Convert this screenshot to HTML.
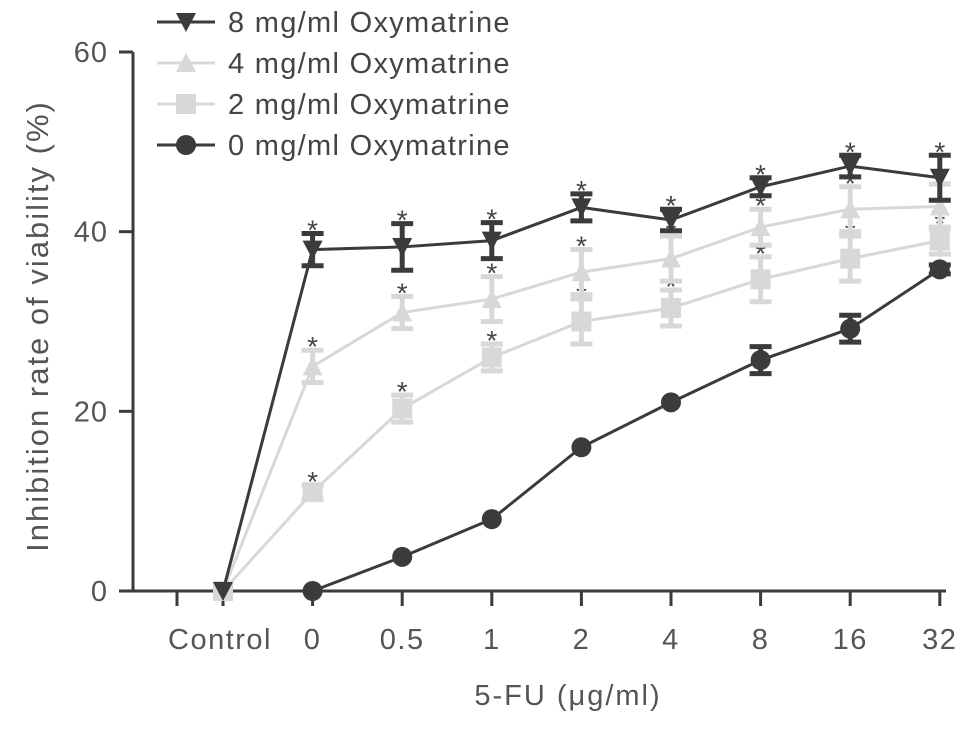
<!DOCTYPE html>
<html><head><meta charset="utf-8"><style>
html,body{margin:0;padding:0;background:#fff;}
svg text{font-family:"Liberation Sans",sans-serif;}
</style></head><body>
<svg id="chart" width="969" height="727" xmlns="http://www.w3.org/2000/svg">
<g id="axes"></g><g id="series"></g><g id="legend"></g>
</svg>
<script>
const categories=["Control","0","0.5","1","2","4","8","16","32"];
const yTicks=[0,20,40,60];
const s8=[0,38,38.3,39,42.7,41.3,45,47.3,46];
const e8=[0,1.8,2.6,2.0,1.5,1.2,1.0,1.2,2.5];
const s4=[0,25,31,32.5,35.5,37,40.5,42.5,42.8];
const e4=[0,1.8,1.8,2.5,2.5,2.5,2.0,2.5,2.5];
const s2=[0,11,20.3,26,30,31.5,34.7,37,39];
const e2=[0,0.8,1.5,1.5,2.5,2.0,2.5,2.5,1.5];
const s0=[null,0,3.8,8,16,21,25.7,29.2,35.8];
const e0=[0,0,0,0,0,0,1.5,1.5,0.5];
const NS="http://www.w3.org/2000/svg";
const xs=i=>223+i*89.6;
const ys=v=>591-v*(539/60);
function mk(t,a,p){const e=document.createElementNS(NS,t);for(const k in a)e.setAttribute(k,a[k]);p.appendChild(e);return e;}
const ax=document.getElementById('axes'),sg=document.getElementById('series'),lg=document.getElementById('legend');
const DARK="#3b3b3b",LIGHT="#d8d8d8";
let l=mk('line',{x1:133,y1:52,x2:133,y2:592,stroke:DARK,'stroke-width':3},ax);

l=mk('line',{x1:132,y1:591,x2:946,y2:591,stroke:DARK,'stroke-width':3},ax);

yTicks.forEach(v=>{
 let t=mk('line',{x1:119,y1:ys(v),x2:133,y2:ys(v),stroke:DARK,'stroke-width':3},ax);
 
 let tx=mk('text',{x:108,y:ys(v)+10,'text-anchor':'end','font-size':29,'letter-spacing':1,fill:'#555'},ax);tx.textContent=v;
 
});
categories.forEach((c,i)=>{
 let t=mk('line',{x1:xs(i),y1:591,x2:xs(i),y2:606,stroke:DARK,'stroke-width':3},ax);
 
 let tx=mk('text',{x:c==="Control"?xs(i)-3:xs(i),y:649,'text-anchor':'middle','font-size':29,'letter-spacing':1.5,fill:'#555'},ax);tx.textContent=c;
 
});
let t=mk('line',{x1:177,y1:591,x2:177,y2:606,stroke:DARK,'stroke-width':3},ax);

let xt=mk('text',{x:568,y:705,'text-anchor':'middle','font-size':29,'letter-spacing':2,fill:'#555'},ax);xt.textContent="5-FU (μg/ml)";

let yt=mk('text',{x:0,y:0,'text-anchor':'middle','font-size':31,'letter-spacing':2,fill:'#555',transform:'translate(48,326) rotate(-90)'},ax);yt.textContent="Inhibition rate of viability (%)";


function marker(shape,x,y,col,p){
 let m;
 if(shape==='tri-down')m=mk('polygon',{points:`${x-10},${y-9} ${x+10},${y-9} ${x},${y+10}`,fill:col},p);
 else if(shape==='tri-up')m=mk('polygon',{points:`${x-10},${y+9} ${x+10},${y+9} ${x},${y-10}`,fill:col},p);
 else if(shape==='square')m=mk('rect',{x:x-10,y:y-10,width:20,height:20,fill:col},p);
 else m=mk('circle',{cx:x,cy:y,r:10,fill:col},p);
 
}
function series(name,vals,errs,col,shape,stars){
 const g=mk('g',{},sg);
 const pts=[];vals.forEach((v,i)=>{if(v!==null)pts.push(xs(i)+','+ys(v));});
 let pl=mk('polyline',{points:pts.join(' '),fill:'none',stroke:col,'stroke-width':3},g);
 
 vals.forEach((v,i)=>{
  if(v===null)return;const x=xs(i),e=errs[i];
  if(e>0){
   let eb=mk('path',{d:`M${x},${ys(v+e)}V${ys(v-e)}M${x-11},${ys(v+e)}H${x+11}M${x-11},${ys(v-e)}H${x+11}`,stroke:col,'stroke-width':5,fill:'none'},g);
   
  }
  marker(shape,x,ys(v),col,g);
  if(stars&&i>0){let st=mk('text',{x:x,y:ys(v+e)+6,'text-anchor':'middle','font-size':28,fill:'#444'},g);st.textContent='*';
   }
 });
}
series('series-2mg',s2,e2,LIGHT,'square',true);
series('series-4mg',s4,e4,LIGHT,'tri-up',true);
series('series-0mg',s0,e0,DARK,'circle',false);
series('series-8mg',s8,e8,DARK,'tri-down',true);
const legendLabels=["8 mg/ml Oxymatrine","4 mg/ml Oxymatrine","2 mg/ml Oxymatrine","0 mg/ml Oxymatrine"];
const legendCols=[DARK,LIGHT,LIGHT,DARK],legendShapes=['tri-down','tri-up','square','circle'];
legendLabels.forEach((lab,i)=>{
 const y=22+i*41;const g=mk('g',{},lg);
 mk('line',{x1:157,y1:y,x2:215,y2:y,stroke:legendCols[i],'stroke-width':3},g);
 marker(legendShapes[i],186,y,legendCols[i],g);
 let tx=mk('text',{x:228,y:y+10,'font-size':29,'letter-spacing':1.3,fill:'#444'},g);tx.textContent=lab;
});
</script>
</body></html>
